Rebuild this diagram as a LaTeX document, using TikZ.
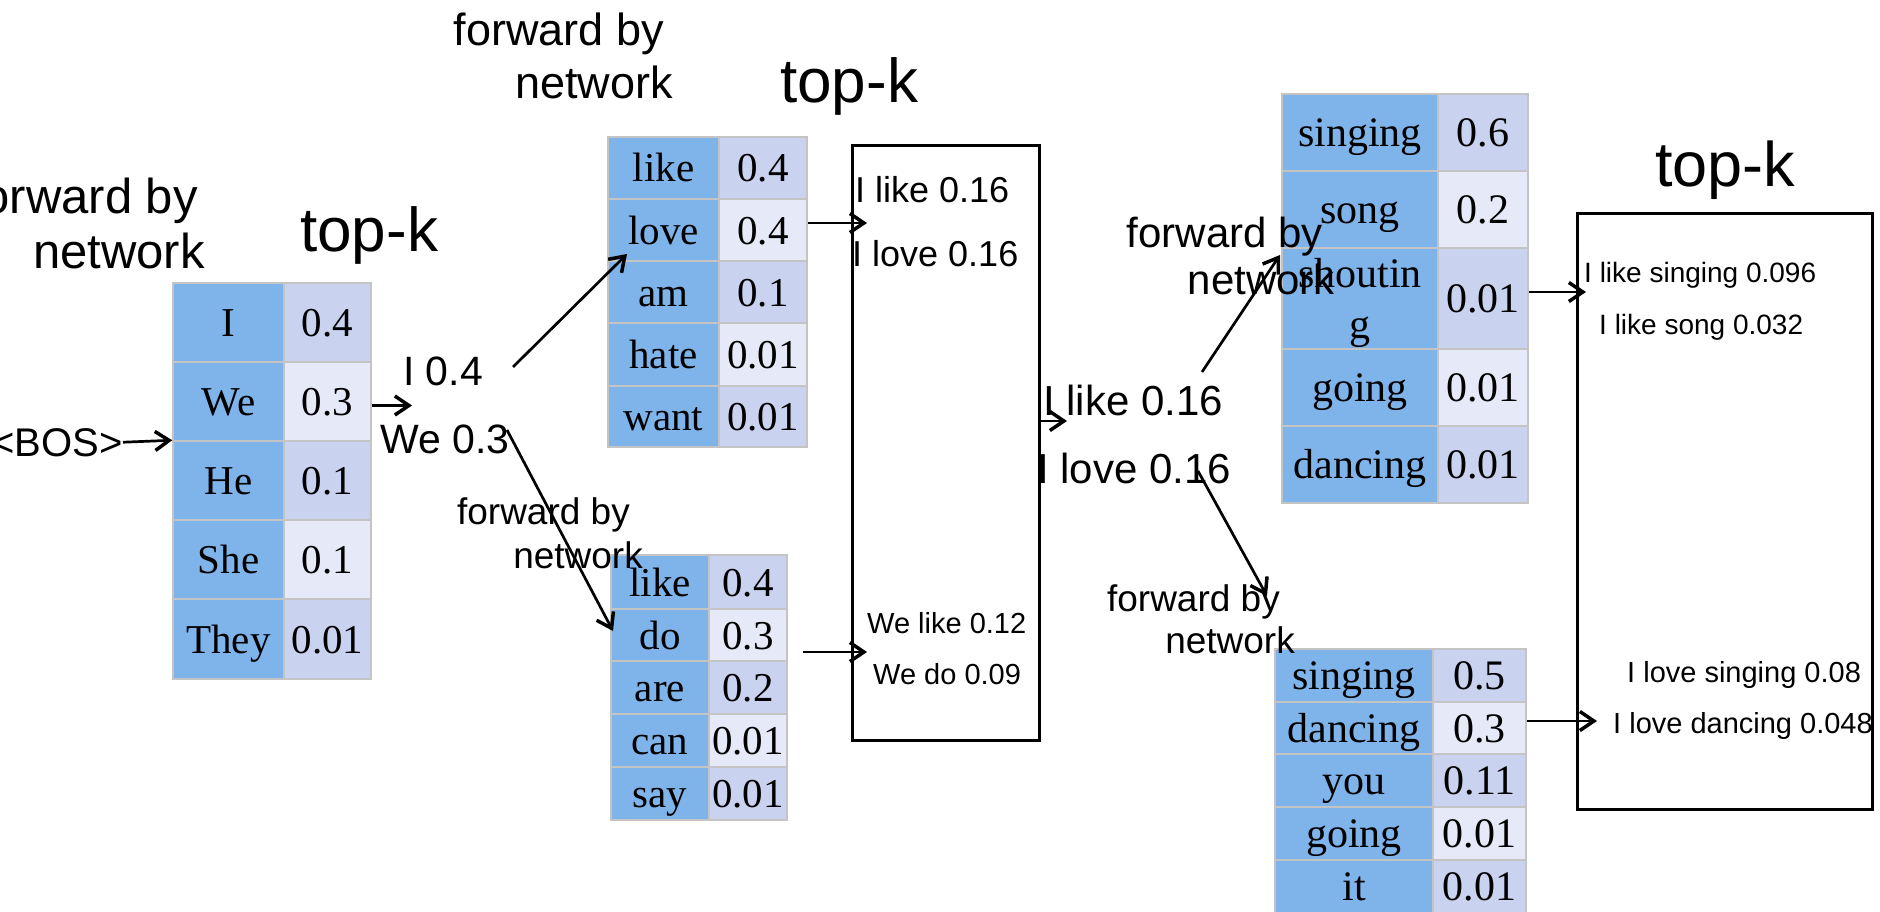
\documentclass[tikz,border=0pt]{standalone}
\usepackage{fontspec}
\setmainfont{Liberation Serif}
\newfontfamily\labelsans{Liberation Sans}
\usetikzlibrary{arrows.meta}

\definecolor{wordblue}{RGB}{127,180,235}
\definecolor{probdark}{RGB}{201,211,240}
\definecolor{problight}{RGB}{230,233,247}
\definecolor{cellrule}{RGB}{196,196,196}

\newcommand\sfsize[2]{\labelsans\fontsize{#1}{#2}\selectfont}

% one table row: name, x-left, x-split, x-right, y-top, y-bottom, word, probability, shade
\newcommand\tokrow[9]{%
  \node[wcell, minimum width={(#3-#2)*1pt}, minimum height={(#6-#5)*1pt}]
    (#1w) at ({(#2+#3)/2},{(#5+#6)/2}) {#7};
  \node[#9, minimum width={(#4-#3)*1pt}, minimum height={(#6-#5)*1pt}]
    (#1p) at ({(#3+#4)/2},{(#5+#6)/2}) {#8};
}

\tikzset{
  cell/.style={draw=cellrule, line width=1.5pt, inner sep=0pt,
    text height=30pt, text depth=2pt, font=\fontsize{42}{50}\selectfont},
  wcell/.style={cell, fill=wordblue},
  pdark/.style={cell, fill=probdark},
  plight/.style={cell, fill=problight},
  lbl/.style={inner sep=0pt},
  arr/.style={line width=2.7pt,
    -{Straight Barb[length=14pt,width=19pt,line width=3.5pt]}},
  topkbox/.style={draw, line width=3pt, inner sep=0pt},
}

\begin{document}
\begin{tikzpicture}[x=1pt,y=-1pt]
\useasboundingbox (0,0) rectangle (1880,912);

% ---------- step 1 ----------
\begin{scope}[cell/.append style={font=\fontsize{41}{49}\selectfont}]
\tokrow{t1r1}{173}{284}{371}{283}{362}{I}{0.4}{pdark}
\tokrow{t1r2}{173}{284}{371}{362}{441}{We}{0.3}{plight}
\tokrow{t1r3}{173}{284}{371}{441}{520}{He}{0.1}{pdark}
\tokrow{t1r4}{173}{284}{371}{520}{599}{She}{0.1}{plight}
\tokrow{t1r5}{173}{284}{371}{599}{679}{They}{0.01}{pdark}
\end{scope}

% ---------- step 2 ----------
\begin{scope}[cell/.append style={font=\fontsize{41}{49}\selectfont}]
\tokrow{t2r1}{608}{719}{807}{137}{199}{like}{0.4}{pdark}
\tokrow{t2r2}{608}{719}{807}{199}{261}{love}{0.4}{plight}
\tokrow{t2r3}{608}{719}{807}{261}{323}{am}{0.1}{pdark}
\tokrow{t2r4}{608}{719}{807}{323}{386}{hate}{0.01}{plight}
\tokrow{t2r5}{608}{719}{807}{386}{447}{want}{0.01}{pdark}

\tokrow{t2b1}{611}{709}{787}{555}{609}{like}{0.4}{pdark}
\tokrow{t2b2}{611}{709}{787}{609}{661}{do}{0.3}{plight}
\tokrow{t2b3}{611}{709}{787}{661}{714}{are}{0.2}{pdark}
\tokrow{t2b4}{611}{709}{787}{714}{767}{can}{0.01}{plight}
\tokrow{t2b5}{611}{709}{787}{767}{820}{say}{0.01}{pdark}
\end{scope}

% ---------- step 3 ----------
\tokrow{t3r1}{1282}{1438}{1528}{94}{171}{singing}{0.6}{pdark}
\tokrow{t3r2}{1282}{1438}{1528}{171}{248}{song}{0.2}{plight}
\tokrow{t3r3}{1282}{1438}{1528}{248}{349}{}{0.01}{pdark}
\tokrow{t3r4}{1282}{1438}{1528}{349}{426}{going}{0.01}{plight}
\tokrow{t3r5}{1282}{1438}{1528}{426}{503}{dancing}{0.01}{pdark}
\node[inner sep=0pt, align=center, anchor=north, font=\fontsize{42}{51}\selectfont]
  (shoutword) at (t3r3w.center |- 0,258) {shoutin\\g};

\tokrow{t3b1}{1275}{1433}{1526}{649}{702}{singing}{0.5}{pdark}
\tokrow{t3b2}{1275}{1433}{1526}{702}{754}{dancing}{0.3}{plight}
\tokrow{t3b3}{1275}{1433}{1526}{754}{807}{you}{0.11}{pdark}
\tokrow{t3b4}{1275}{1433}{1526}{807}{860}{going}{0.01}{plight}
\tokrow{t3b5}{1275}{1433}{1526}{860}{913}{it}{0.01}{pdark}

% ---------- top-k boxes ----------
\node[topkbox, minimum width=187pt, minimum height=594pt] (box1) at (945.5,443) {};
\node[topkbox, minimum width=295pt, minimum height=595pt] (box2) at (1724.5,511.5) {};

% ---------- labels ----------
\node[lbl, anchor=base east, font=\sfsize{40}{48}] (bos) at (123,456) {<BOS>};
\node[lbl, align=right, anchor=north east, font=\sfsize{49}{55}] (fwd1) at (205,178)
  {forward by\rule{7pt}{0pt}\\network};
\node[lbl, anchor=base west, font=\sfsize{62}{70}] (topk1) at (300,252) {top-k};
\node[lbl, anchor=base west, font=\sfsize{41}{49}] (i04) at (403,385) {I 0.4};
\node[lbl, anchor=base west, font=\sfsize{41}{49}] (we03) at (380,453) {We 0.3};

\node[lbl, align=right, anchor=north east, font=\sfsize{45}{53}] (fwd2) at (673,13)
  {forward by\rule{9pt}{0pt}\\network};
\node[lbl, anchor=base west, font=\sfsize{62}{70}] (topk2) at (780,103) {top-k};
\node[lbl, align=right, anchor=north east, font=\sfsize{37}{44}] (fwd3) at (643,497)
  {forward by\rule{13pt}{0pt}\\network};

\node[lbl, anchor=base west, font=\sfsize{36}{43}] (b1l1) at (855,203) {I like 0.16};
\node[lbl, anchor=base west, font=\sfsize{36}{43}] (b1l2) at (852,267) {I love 0.16};
\node[lbl, anchor=base west, font=\sfsize{29}{35}] (b1l3) at (867,633) {We like 0.12};
\node[lbl, anchor=base west, font=\sfsize{29}{35}] (b1l4) at (873,684) {We do 0.09};

\node[lbl, anchor=base west, font=\sfsize{42}{50}] (ilike) at (1043,415) {I like 0.16};
\node[lbl, anchor=base west, font=\sfsize{42}{50}] (ilove) at (1037,483) {I love 0.16};

\node[lbl, align=right, anchor=north east, font=\sfsize{42}{47}] (fwd4) at (1335,217)
  {forward by\rule{12pt}{0pt}\\network};
\node[lbl, align=right, anchor=north east, font=\sfsize{37}{42}] (fwd5) at (1295,584)
  {forward by\rule{15pt}{0pt}\\network};

\node[lbl, anchor=base west, font=\sfsize{63}{70}] (topk3) at (1655,187) {top-k};
\node[lbl, anchor=base west, font=\sfsize{28}{34}] (b2l1) at (1584,282) {I like singing 0.096};
\node[lbl, anchor=base west, font=\sfsize{28}{34}] (b2l2) at (1599,334) {I like song 0.032};
\node[lbl, anchor=base west, font=\sfsize{29}{35}] (b2l3) at (1627,682) {I love singing 0.08};
\node[lbl, anchor=base west, font=\sfsize{29}{35}] (b2l4) at (1613,733) {I love dancing 0.048};

% ---------- connectors ----------
\coordinate (i04tip) at (412,405.5);
\coordinate (i04tail) at (513,367);
\coordinate (lovetip) at (627,254);
\coordinate (we03tail) at (507,430);
\coordinate (dotip) at (613,631);
\coordinate (b1in1) at (867,223);
\coordinate (b1out2) at (803,652);
\coordinate (b1in2) at (867,652);
\coordinate (iliketip) at (1067,421);
\coordinate (iliketail) at (1202,372);
\coordinate (shouttip) at (1280,255);
\coordinate (ilovetail) at (1198,471);
\coordinate (fwdtip) at (1267,596);
\coordinate (b2in1) at (1586,292);
\coordinate (b2in2) at (1597,721);

\draw[arr] (bos.east) -- (t1r3w.north west);
\draw[arr] (t1r2p.east |- i04tip) -- (i04tip);
\draw[arr] (i04tail) -- (lovetip);
\draw[arr] (we03tail) -- (dotip);
\draw[arr] (t2r2p.east |- b1in1) -- (b1in1);
\draw[arr] (b1out2) -- (b1in2);
\draw[arr] (box1.east |- iliketip) -- (iliketip);
\draw[arr] (iliketail) -- (shouttip);
\draw[arr] (ilovetail) -- (fwdtip);
\draw[arr] (t3r3p.east |- b2in1) -- (b2in1);
\draw[arr] (t3b2p.east |- b2in2) -- (b2in2);
\end{tikzpicture}
\end{document}
